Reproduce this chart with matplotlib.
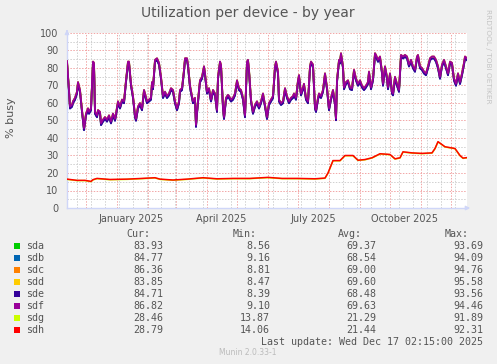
import matplotlib
matplotlib.use('Agg')
import matplotlib.pyplot as plt
import matplotlib.dates as mdates
from matplotlib.patches import Rectangle
import pandas as pd
import numpy as np

# 데이터 (x = 시작일 이후 일수)
start = pd.Timestamp('2024-11-12 02:15')
end = pd.Timestamp('2025-12-17 02:15')

busy_day = [0, 2, 3, 5, 6, 8, 10, 11, 13, 15, 17, 19, 21, 22, 24, 26, 27, 28, 30, 31,
            33, 34, 36, 38, 40, 42, 44, 46, 48, 49, 51, 53, 55, 57, 59, 61, 62, 64, 66, 68,
            69, 71, 73, 75, 77, 78, 80, 82, 84, 85, 86, 88, 90, 92, 94, 96, 98, 100, 102,
            104, 106, 108, 110, 112, 113, 115, 117, 118, 120, 121, 123, 125, 126, 128, 129, 130,
            132, 133, 135, 137, 138, 140, 142, 144, 146, 148, 150, 151, 153, 154, 156, 157, 159,
            161, 162, 164, 166, 168, 170, 172, 174, 176, 178, 180, 181, 182, 184, 186, 188, 190,
            192, 194, 196, 198, 200, 202, 204, 206, 208, 209, 211, 212, 214, 216, 218, 220, 222,
            224, 226, 227, 229, 231, 232, 234, 236, 237, 239, 241, 243, 244, 246, 248, 249, 251,
            252, 254, 256, 258, 260, 262, 264, 266, 268, 269, 270, 272, 273, 274, 276, 277, 279,
            281, 283, 285, 287, 289, 291, 293, 295, 297, 299, 301, 302, 304, 306, 308, 309, 311,
            313, 315, 316, 318, 320, 321, 323, 325, 326, 328, 330, 332, 334, 336, 338, 340, 342,
            344, 346, 348, 350, 351, 353, 355, 357, 359, 361, 363, 365, 367, 369, 371, 373, 375,
            377, 379, 381, 383, 385, 387, 389, 391, 393, 395, 397, 398, 400]
busy_val = [84, 67.5, 58, 59, 61, 63, 66.5, 72, 67.5, 56, 45.6, 54, 57, 55, 57, 83.7, 83, 55, 53, 56,
            55, 48.5, 50.5, 52, 50.5, 53, 49.5, 54, 51, 54, 61, 58, 62, 61, 73, 83.7, 83.7, 71, 64, 53,
            51, 58, 60, 57, 67.5, 65.5, 61, 62, 63, 72, 69, 84.7, 85.6, 83, 75, 64, 66.5, 64, 65.5,
            68.5, 67.5, 61, 57, 61, 67.5, 68.5, 79, 85.6, 85.6, 82, 70, 64, 61, 63, 47.5, 55,
            67.5, 73, 75, 81, 77, 66.5, 68.5, 62, 67.5, 65.5, 56, 75, 83.7, 82, 58, 52, 63,
            64.7, 64, 62, 63, 65.5, 73, 68.5, 67.5, 63, 53, 83.7, 84.7, 79, 62, 55, 59, 61,
            58, 61, 65.5, 59, 52, 60, 62, 64, 81, 83.7, 78, 62, 60, 61, 68.5, 64, 61,
            63, 64, 65.5, 63, 73, 76, 65.5, 69, 71, 63, 61, 81, 83.7, 82, 58, 56, 63,
            65.5, 64, 67.5, 77, 69, 57, 63, 67.5, 60, 51.3, 73, 84.7, 83.7, 88.5, 81, 69, 72,
            73, 69, 68.5, 79, 74, 71, 73, 70, 68.5, 70, 72, 78, 69, 74, 88.5, 87.5, 84.7,
            86.6, 78, 71, 81, 75, 69, 77, 66.5, 65.5, 75, 71, 67.5, 87.5, 86.6, 87.5, 86.6, 82,
            84.7, 81, 79, 86.6, 87.5, 81, 80, 78, 77, 81, 85.6, 86.6, 86.6, 84.7, 81, 75, 82,
            84.7, 81, 77, 83.7, 83, 74, 71, 77, 72, 77, 83, 86.6, 85.6]

sdh_day = [0, 10, 18, 24, 26, 30, 43, 60, 75, 88, 93, 106, 120, 136, 150, 166, 183, 201, 215,
           231, 248, 258, 261, 266, 273, 278, 286, 291, 298, 305, 313, 323, 328, 333, 336, 345,
           355, 365, 368, 371, 378, 383, 388, 393, 396, 400]
sdh_val = [16.5, 15.8, 15.8, 15.2, 16.2, 16.9, 16.3, 16.5, 16.9, 17.3, 16.5, 16.0, 16.5, 17.3,
           16.7, 16.9, 16.9, 17.5, 16.9, 16.9, 16.7, 17.1, 20, 27.1, 27.1, 30, 30, 27.3, 27.7,
           28.7, 31, 30.6, 28.1, 28.7, 32.1, 31.5, 31.2, 31.5, 34, 37.9, 35, 34.5, 34, 30, 28.5, 28.8]

devices = ['sda', 'sdb', 'sdc', 'sdd', 'sde', 'sdf', 'sdg', 'sdh']
colors = ['#00CC00', '#0066B3', '#FF8000', '#FFCC00', '#330099', '#990099', '#CCFF00', '#FF0000']
# 평균값 차이 (Avg 열 기준, sdf / sdh 대비)
shift = [-0.26, -1.09, -0.63, -0.03, -1.15, 0.0, -0.15, 0.0]
cur = ['83.93', '84.77', '86.36', '83.85', '84.71', '86.82', '28.46', '28.79']
vmin = ['8.56', '9.16', '8.81', '8.47', '8.39', '9.10', '13.87', '14.06']
vavg = ['69.37', '68.54', '69.00', '69.60', '68.48', '69.63', '21.29', '21.44']
vmax = ['93.69', '94.09', '94.76', '95.58', '93.56', '94.46', '91.89', '92.31']

W, H = 497, 364
txt = '#555555'


def fx(x):
    return x / W


def fy(y):
    return 1 - y / H


fig = plt.figure(figsize=(W / 100, H / 100), dpi=100, facecolor='#F0F0F0')
ax = fig.add_axes([fx(67), fy(208), (467 - 67) / W, (208 - 33) / H])
ax.set_facecolor('white')

busy_t = start + pd.to_timedelta(busy_day, unit='D')
sdh_t = start + pd.to_timedelta(sdh_day, unit='D')
for i, dev in enumerate(devices):
    if i < 6:
        ax.plot(busy_t, np.array(busy_val) + shift[i], color=colors[i], lw=1.3, zorder=3)
    else:
        ax.plot(sdh_t, np.array(sdh_val) + shift[i], color=colors[i], lw=1.1, zorder=3)

ax.set_xlim(start, end)
ax.set_ylim(0, 100)

# 격자
for v in range(5, 100, 10):
    ax.axhline(v, color='#D0D0D0', lw=0.7, ls=(0, (1.5, 1.5)), zorder=1)
for v in range(10, 101, 10):
    ax.axhline(v, color='#F2A6A6', lw=0.7, ls=(0, (1.5, 1.5)), zorder=1)
for d in pd.date_range('2024-11-22', end, freq='14D'):
    ax.axvline(d, color='#D0D0D0', lw=0.7, ls=(0, (1.5, 1.5)), zorder=1)
for d in pd.date_range('2024-12-01', end, freq='MS'):
    ax.axvline(d, color='#F2A6A6', lw=0.7, ls=(0, (1.5, 1.5)), zorder=1)

ax.set_yticks(range(0, 101, 10))
ax.tick_params(axis='y', length=0, pad=6, labelsize=7, labelcolor=txt)
lab_dates = pd.to_datetime(['2025-01-15', '2025-04-15', '2025-07-16', '2025-10-16'])
ax.set_xticks(lab_dates)
ax.set_xticklabels(['January 2025', 'April 2025', 'July 2025', 'October 2025'])
ax.tick_params(axis='x', length=0, pad=4, labelsize=7, labelcolor=txt)

for s in ['top', 'right']:
    ax.spines[s].set_visible(False)
for s in ['left', 'bottom']:
    ax.spines[s].set_color('#CFD6F8')
    ax.spines[s].set_linewidth(1)
ax.annotate('', xy=(0, 1.035), xytext=(0, 0.99), xycoords='axes fraction',
            arrowprops=dict(arrowstyle='-|>', color='#CFD6F8', lw=1, mutation_scale=6), annotation_clip=False)
ax.annotate('', xy=(1.015, 0), xytext=(0.99, 0), xycoords='axes fraction',
            arrowprops=dict(arrowstyle='-|>', color='#CFD6F8', lw=1, mutation_scale=6), annotation_clip=False)

fig.text(fx(248), fy(13), 'Utilization per device - by year', ha='center', va='center',
         fontsize=10, color=txt)
fig.text(fx(11), fy(118), '% busy', rotation=90, ha='center', va='center', fontsize=8, color=txt)
fig.text(fx(488), fy(56), 'RRDTOOL / TOBI OETIKER', rotation=270, ha='center', va='center',
         fontsize=5.3, color='#C4C4C4')

# 범례 표
mono = dict(family='DejaVu Sans Mono', fontsize=7.2, color=txt, va='center')
fig.text(fx(150), fy(234), 'Cur:', ha='right', **mono)
fig.text(fx(257), fy(234), 'Min:', ha='right', **mono)
fig.text(fx(362), fy(234), 'Avg:', ha='right', **mono)
fig.text(fx(469), fy(234), 'Max:', ha='right', **mono)
for i, dev in enumerate(devices):
    y = 245.7 + 12 * i
    fig.patches.append(Rectangle((fx(14), fy(y + 3)), 6 / W, 6 / H, transform=fig.transFigure,
                                 facecolor=colors[i], edgecolor='none'))
    fig.text(fx(26.5), fy(y), dev, ha='left', **mono)
    fig.text(fx(163), fy(y), cur[i], ha='right', **mono)
    fig.text(fx(270), fy(y), vmin[i], ha='right', **mono)
    fig.text(fx(376), fy(y), vavg[i], ha='right', **mono)
    fig.text(fx(483), fy(y), vmax[i], ha='right', **mono)
fig.text(fx(483), fy(341.7), 'Last update: Wed Dec 17 02:15:00 2025', ha='right', **mono)
fig.text(fx(248), fy(352.5), 'Munin 2.0.33-1', ha='center', va='center', fontsize=5.5, color='#BBBBBB')

fig.savefig('out.png', dpi=100, facecolor=fig.get_facecolor())
